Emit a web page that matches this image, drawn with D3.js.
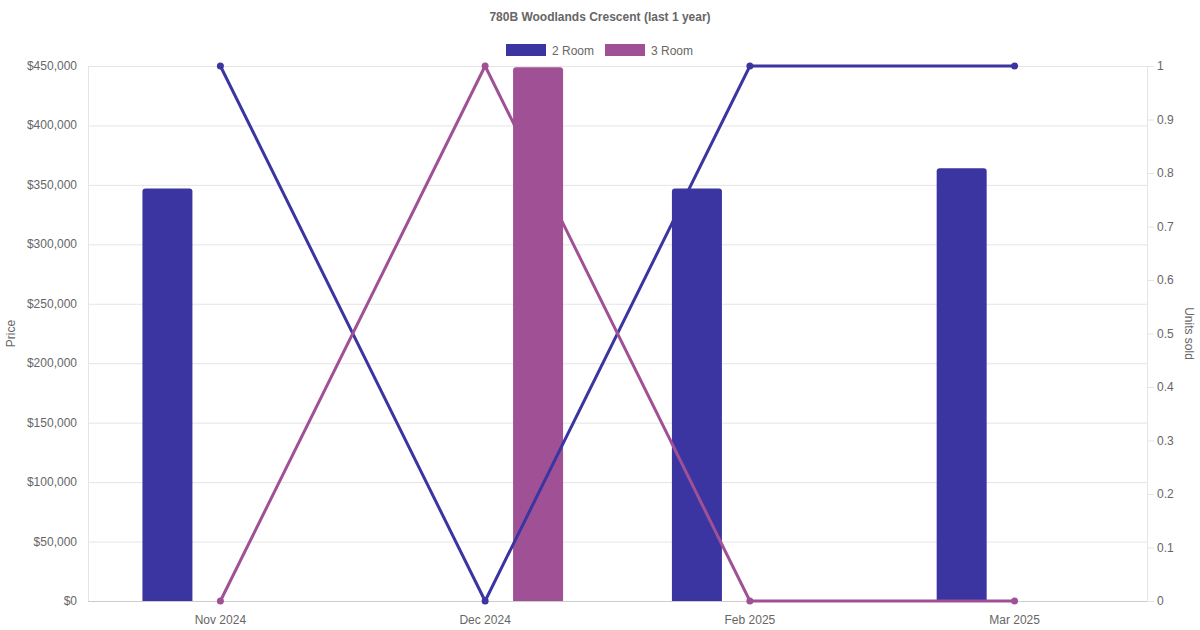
<!DOCTYPE html>
<html lang="en">
<head>
    <meta charset="UTF-8">
    <title>780B Woodlands Crescent</title>
    <script src="https://d3js.org/d3.v7.min.js"></script>
    <style>
        body { margin: 0; background: #fff; }
        text { font-family: "Liberation Sans", Arial, sans-serif; fill: #666; }
    </style>
</head>
<body>
<div id="fig"></div>
<script>
    let months = ["Nov 2024", "Dec 2024", "Feb 2025", "Mar 2025"]
    let seriesNames = ["2 Room", "3 Room"]
    let colors = ["#3a35a0", "#a05195"]
    let price2 = [347000, null, 347000, 364000]
    let price3 = [null, 449000, null, null]
    let units2 = [1, 0, 1, 1]
    let units3 = [0, 1, 0, 0]
    let priceTicks = d3.range(0, 450001, 50000)
    let unitTicks = d3.range(0, 11).map(d => d / 10)

    let W = 1200, H = 630
    let pL = 88, pR = 1147, pT = 66, pB = 601

    let svg = d3.select("#fig").append("svg")
        .attr("width", W).attr("height", H)

    let x = d3.scaleBand().domain(months).range([pL, pR])
    let yL = d3.scaleLinear().domain([0, 450000]).range([pB, pT])
    let yR = d3.scaleLinear().domain([0, 1]).range([pB, pT])

    // grid
    svg.append("g").selectAll("line").data(priceTicks).join("line")
        .attr("x1", pL).attr("x2", pR)
        .attr("y1", d => yL(d) + 0.5).attr("y2", d => yL(d) + 0.5)
        .attr("stroke", "#e5e5e5")

    // left axis
    let fmt = d => "$" + d3.format(",")(d)
    svg.append("g").selectAll("text").data(priceTicks).join("text")
        .attr("x", pL - 11).attr("y", d => yL(d) + 4)
        .attr("text-anchor", "end").attr("font-size", 12)
        .text(fmt)
    svg.append("line").attr("x1", pL + 0.5).attr("x2", pL + 0.5)
        .attr("y1", pT).attr("y2", pB).attr("stroke", "#e5e5e5")

    // right axis
    let gr = svg.append("g")
    gr.append("line").attr("x1", pR + 0.5).attr("x2", pR + 0.5)
        .attr("y1", pT).attr("y2", pB).attr("stroke", "#e5e5e5")
    gr.selectAll("line.t").data(unitTicks).join("line").attr("class", "t")
        .attr("x1", pR).attr("x2", pR + 7)
        .attr("y1", d => yR(d) + 0.5).attr("y2", d => yR(d) + 0.5)
        .attr("stroke", "#e5e5e5")
    gr.selectAll("text").data(unitTicks).join("text")
        .attr("x", pR + 10).attr("y", d => yR(d) + 4)
        .attr("font-size", 12)
        .text(d => d3.format("")(d))

    // bottom axis
    svg.append("line").attr("x1", pL).attr("x2", pR)
        .attr("y1", pB + 0.5).attr("y2", pB + 0.5).attr("stroke", "#ccc")
    svg.append("g").selectAll("text").data(months).join("text")
        .attr("x", d => x(d) + x.bandwidth() / 2).attr("y", pB + 23)
        .attr("text-anchor", "middle").attr("font-size", 12)
        .text(d => d)

    // axis titles
    svg.append("text").attr("transform", `translate(15,${(pT + pB) / 2}) rotate(-90)`)
        .attr("text-anchor", "middle").attr("font-size", 12).text("Price")
    svg.append("text").attr("transform", `translate(1185,${(pT + pB) / 2}) rotate(90)`)
        .attr("text-anchor", "middle").attr("font-size", 12).text("Units sold")

    // bars
    let barW = 50, rad = 3
    function barPath(cx, v) {
        let x0 = cx - barW / 2, x1 = cx + barW / 2, y0 = yL(v), y1 = yL(0)
        return `M${x0},${y1}V${y0 + rad}Q${x0},${y0} ${x0 + rad},${y0}H${x1 - rad}Q${x1},${y0} ${x1},${y0 + rad}V${y1}Z`
    }
    let prices = [price2, price3]
    prices.forEach(function (vals, i) {
        let off = (i === 0 ? -1 : 1) * x.bandwidth() * 0.2
        svg.append("g").selectAll("path")
            .data(months.map((m, j) => ({m: m, v: vals[j]})).filter(d => d.v !== null))
            .join("path")
            .attr("d", d => barPath(x(d.m) + x.bandwidth() / 2 + off, d.v))
            .attr("fill", colors[i])
    })

    // lines
    let units = [units2, units3]
    units.forEach(function (vals, i) {
        let pts = months.map((m, j) => [x(m) + x.bandwidth() / 2, yR(vals[j])])
        svg.append("path").attr("d", d3.line()(pts))
            .attr("fill", "none").attr("stroke", colors[i]).attr("stroke-width", 3)
        svg.append("g").selectAll("circle").data(pts).join("circle")
            .attr("cx", d => d[0]).attr("cy", d => d[1]).attr("r", 3.5)
            .attr("fill", colors[i])
    })

    // title
    svg.append("text").attr("x", W / 2).attr("y", 21)
        .attr("text-anchor", "middle").attr("font-size", 12).attr("font-weight", "bold")
        .text("780B Woodlands Crescent (last 1 year)")

    // legend
    let lg = svg.append("g")
    let lx = [506, 605]
    seriesNames.forEach(function (s, i) {
        lg.append("rect").attr("x", lx[i]).attr("y", 44).attr("width", 40).attr("height", 12)
            .attr("fill", colors[i])
        lg.append("text").attr("x", lx[i] + 46).attr("y", 54.5).attr("font-size", 12).text(s)
    })
</script>
</body>
</html>
